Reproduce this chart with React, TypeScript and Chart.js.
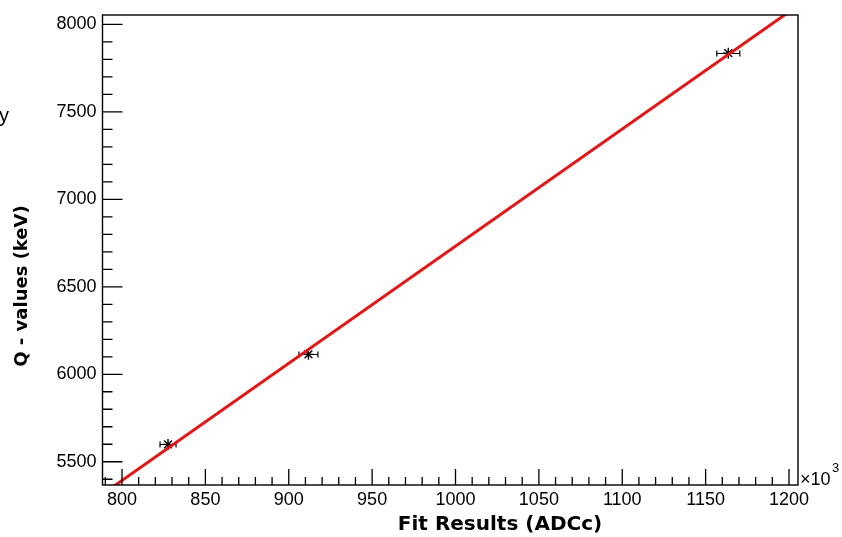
import React, { useEffect, useRef } from 'react';
import { Chart, registerables } from 'chart.js';

Chart.register(...registerables);

// Measured points (Fit Results in 10^3 ADCc, Q-values in keV)
const pointX = [827.6, 911.8, 1163.6];
const pointY = [5599, 6114, 7836];
const pointXErr = [4.8, 5.7, 6.9];

// Linear fit line end points
const fitX = [790, 1206];
const fitY = [5326, 8112];

// Axis ticks
const xTickValues = [800, 850, 900, 950, 1000, 1050, 1100, 1150, 1200];
const yTickValues = [5500, 6000, 6500, 7000, 7500, 8000];
const xMinorStep = 10;
const yMinorStep = 100;
const xMin = 788.3;
const xMax = 1205.4;
const yMin = 5367;
const yMax = 8054;

const xTitle = 'Fit Results (ADCc)';
const yTitle = 'Q - values (keV)';

const TICK_FONT = '"Liberation Sans", Arial, sans-serif';
const TITLE_FONT = '"DejaVu Sans", sans-serif';

const framePlugin = {
  id: 'rootFrame',
  beforeDatasetsDraw(chart: any) {
    const { ctx } = chart;
    const xs = chart.scales.x;
    const ys = chart.scales.y;
    ctx.save();
    ctx.strokeStyle = '#000';
    ctx.lineWidth = 1.2;
    for (let i = 0; i < pointX.length; i++) {
      const x1 = xs.getPixelForValue(pointX[i] - pointXErr[i]);
      const x2 = xs.getPixelForValue(pointX[i] + pointXErr[i]);
      const y = Math.round(ys.getPixelForValue(pointY[i])) + 0.5;
      ctx.beginPath();
      ctx.moveTo(x1, y);
      ctx.lineTo(x2, y);
      ctx.moveTo(x1, y - 3);
      ctx.lineTo(x1, y + 3);
      ctx.moveTo(x2, y - 3);
      ctx.lineTo(x2, y + 3);
      ctx.stroke();
    }
    ctx.restore();
  },
  afterDraw(chart: any) {
    const { ctx, chartArea } = chart;
    const xs = chart.scales.x;
    const ys = chart.scales.y;
    const { left, right, top, bottom } = chartArea;
    ctx.save();
    ctx.strokeStyle = '#000';
    ctx.lineWidth = 1.4;
    ctx.strokeRect(left, top, right - left, bottom - top);

    ctx.lineWidth = 1.3;
    ctx.beginPath();
    // x ticks (inward, from bottom)
    const xStart = Math.ceil(xMin / xMinorStep) * xMinorStep;
    for (let v = xStart; v <= xMax + 1e-6; v += xMinorStep) {
      const px = xs.getPixelForValue(v);
      const major = xTickValues.includes(Math.round(v));
      const len = major ? 16 : 8;
      ctx.moveTo(px, bottom);
      ctx.lineTo(px, bottom - len);
    }
    // y ticks (inward, from left)
    const yStart = Math.ceil(yMin / yMinorStep) * yMinorStep;
    for (let v = yStart; v <= yMax + 1e-6; v += yMinorStep) {
      const py = ys.getPixelForValue(v);
      const major = yTickValues.includes(Math.round(v));
      const len = major ? 20 : 10;
      ctx.moveTo(left, py);
      ctx.lineTo(left + len, py);
    }
    ctx.stroke();

    // exponent label
    ctx.fillStyle = '#000';
    ctx.textAlign = 'left';
    ctx.textBaseline = 'alphabetic';
    ctx.font = `18px ${TICK_FONT}`;
    ctx.fillText('\u00d710', right + 2, bottom);
    ctx.font = `13px ${TICK_FONT}`;
    ctx.fillText('3', right + 34, bottom - 13);

    // cut-off glyph at left edge
    ctx.font = `20px ${TICK_FONT}`;
    ctx.textAlign = 'right';
    ctx.fillText('y', 9, 122);

    // axis titles
    ctx.font = `bold 20px ${TITLE_FONT}`;
    ctx.textAlign = 'center';
    ctx.fillText(xTitle, 500, 530);

    ctx.save();
    ctx.translate(27, 286);
    ctx.rotate(-Math.PI / 2);
    ctx.font = `bold 18px ${TITLE_FONT}`;
    ctx.textAlign = 'center';
    ctx.fillText(yTitle, 0, 0);
    ctx.restore();

    ctx.restore();
  },
};

export default function App() {
  const canvasRef = useRef<HTMLCanvasElement | null>(null);

  useEffect(() => {
    const canvas = canvasRef.current;
    if (!canvas) return;
    const chart = new Chart(canvas, {
      type: 'scatter',
      data: {
        datasets: [
          {
            label: 'fit',
            type: 'line',
            data: fitX.map((x, i) => ({ x, y: fitY[i] })),
            borderColor: '#e01818',
            borderWidth: 3,
            pointRadius: 0,
            fill: false,
            tension: 0,
          },
          {
            label: 'points',
            data: pointX.map((x, i) => ({ x, y: pointY[i] })),
            pointStyle: 'star',
            pointRadius: 5.5,
            borderColor: '#000',
            backgroundColor: '#000',
            borderWidth: 1.4,
          },
        ],
      } as any,
      options: {
        responsive: false,
        animation: false,
        events: [],
        layout: { padding: { left: 0, top: 10.5, right: 44, bottom: 0 } },
        plugins: {
          legend: { display: false },
          tooltip: { enabled: false },
        },
        scales: {
          x: {
            type: 'linear',
            min: xMin,
            max: xMax,
            grid: { display: false, drawTicks: false },
            border: { display: false },
            afterBuildTicks: (scale: any) => {
              scale.ticks = xTickValues.map((v) => ({ value: v }));
            },
            afterFit: (scale: any) => {
              scale.height = 52;
            },
            ticks: {
              autoSkip: false,
              maxRotation: 0,
              padding: 6,
              color: '#000',
              font: { family: TICK_FONT, size: 18, lineHeight: 1 },
              callback: (v: any) => String(v),
            },
          },
          y: {
            type: 'linear',
            min: yMin,
            max: yMax,
            grid: { display: false, drawTicks: false },
            border: { display: false },
            afterBuildTicks: (scale: any) => {
              scale.ticks = yTickValues.map((v) => ({ value: v }));
            },
            afterFit: (scale: any) => {
              scale.width = 102.5;
            },
            ticks: {
              autoSkip: false,
              padding: 6,
              color: '#000',
              font: { family: TICK_FONT, size: 18, lineHeight: 1 },
              callback: (v: any) => String(v),
            },
          },
        },
      } as any,
      plugins: [framePlugin],
    });
    return () => chart.destroy();
  }, []);

  return (
    <div style={{ position: 'fixed', left: 0, top: 0, width: 842, height: 537, background: '#fff' }}>
      <canvas ref={canvasRef} width={842} height={537} style={{ display: 'block' }} />
    </div>
  );
}
